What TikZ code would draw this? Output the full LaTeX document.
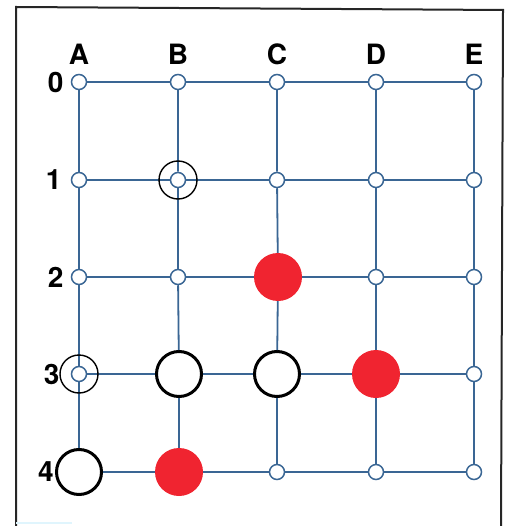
\documentclass[tikz,border=0pt]{standalone}
\usepackage{fontspec}
\setmainfont{TeX Gyre Heros}
\usetikzlibrary{positioning}
\definecolor{gridblue}{RGB}{58,102,148}
\definecolor{stonered}{RGB}{240,36,48}

\begin{document}
\begin{tikzpicture}[
    x=1pt, y=-1pt,
    node distance=9pt,
    pt/.style={circle, draw=gridblue, fill=white, line width=1.5pt,
               minimum size=15pt, inner sep=0pt},
    wstone/.style={circle, draw=black, fill=white, line width=3pt,
                   minimum size=45pt, inner sep=0pt},
    rstone/.style={circle, fill=stonered, minimum size=48pt, inner sep=0pt},
    lbl/.style={inner sep=0pt, font=\bfseries\fontsize{28}{30}\selectfont},
    grid/.style={draw=gridblue, line width=1.8pt},
    ring/.style={draw=black, line width=1.4pt}]

    \useasboundingbox (0,0) rectangle (506,526);

    % frame
    \draw[black!85, line width=2pt] (16,526) -- (16,7) -- (503,10) -- (501,526);
    \draw[cyan!12, line width=2pt] (16,523) -- (72,523);

    % row 0
    \node[pt] (A0) at (79,82)  {};
    \node[pt] (B0) at (178,82) {};
    \node[pt] (C0) at (277,82) {};
    \node[pt] (D0) at (376,82) {};
    \node[pt] (E0) at (474,82) {};
    % row 1
    \node[pt] (A1) at (79,180)  {};
    \node[pt] (B1) at (178,180) {};
    \node[pt] (C1) at (277,180) {};
    \node[pt] (D1) at (376,180) {};
    \node[pt] (E1) at (474,180) {};
    % row 2
    \node[pt]     (A2) at (79,277)  {};
    \node[pt]     (B2) at (178,277) {};
    \node[rstone] (C2) at (278,277) {};
    \node[pt]     (D2) at (376,277) {};
    \node[pt]     (E2) at (474,277) {};
    % row 3
    \node[pt]     (A3) at (79,374)  {};
    \node[wstone] (B3) at (179,374) {};
    \node[wstone] (C3) at (277,374) {};
    \node[rstone] (D3) at (376,374) {};
    \node[pt]     (E3) at (474,374) {};
    % row 4
    \node[wstone] (A4) at (79,472)  {};
    \node[rstone] (B4) at (179,472) {};
    \node[pt]     (C4) at (277,472) {};
    \node[pt]     (D4) at (376,472) {};
    \node[pt]     (E4) at (474,472) {};

    % lines of the board
    \draw[grid] (A0) -- (B0) -- (C0) -- (D0) -- (E0);
    \draw[grid] (A1) -- (B1) -- (C1) -- (D1) -- (E1);
    \draw[grid] (A2) -- (B2) -- (C2) -- (D2) -- (E2);
    \draw[grid] (A3) -- (B3) -- (C3) -- (D3) -- (E3);
    \draw[grid] (A4) -- (B4) -- (C4) -- (D4) -- (E4);
    \draw[grid] (A0) -- (A1) -- (A2) -- (A3) -- (A4);
    \draw[grid] (B0) -- (B1) -- (B2) -- (B3) -- (B4);
    \draw[grid] (C0) -- (C1) -- (C2) -- (C3) -- (C4);
    \draw[grid] (D0) -- (D1) -- (D2) -- (D3) -- (D4);
    \draw[grid] (E0) -- (E1) -- (E2) -- (E3) -- (E4);

    % marked points
    \draw[ring] (B1) circle[radius=19pt];
    \draw[ring] (A3) circle[radius=19pt];

    % column letters
    \node[lbl, above=of A0] (colA) {A};
    \node[lbl, above=of B0] (colB) {B};
    \node[lbl, above=of C0] (colC) {C};
    \node[lbl, above=of D0] (colD) {D};
    \node[lbl, above=of E0] (colE) {E};

    % row numbers
    \node[lbl, left=7pt of A0]  (row0) {0};
    \node[lbl, left=9pt of A1]  (row1) {1};
    \node[lbl, left=7pt of A2]  (row2) {2};
    \node[lbl, left=11pt of A3] (row3) {3};
    \node[lbl, left=1pt of A4]  (row4) {4};
\end{tikzpicture}
\end{document}
